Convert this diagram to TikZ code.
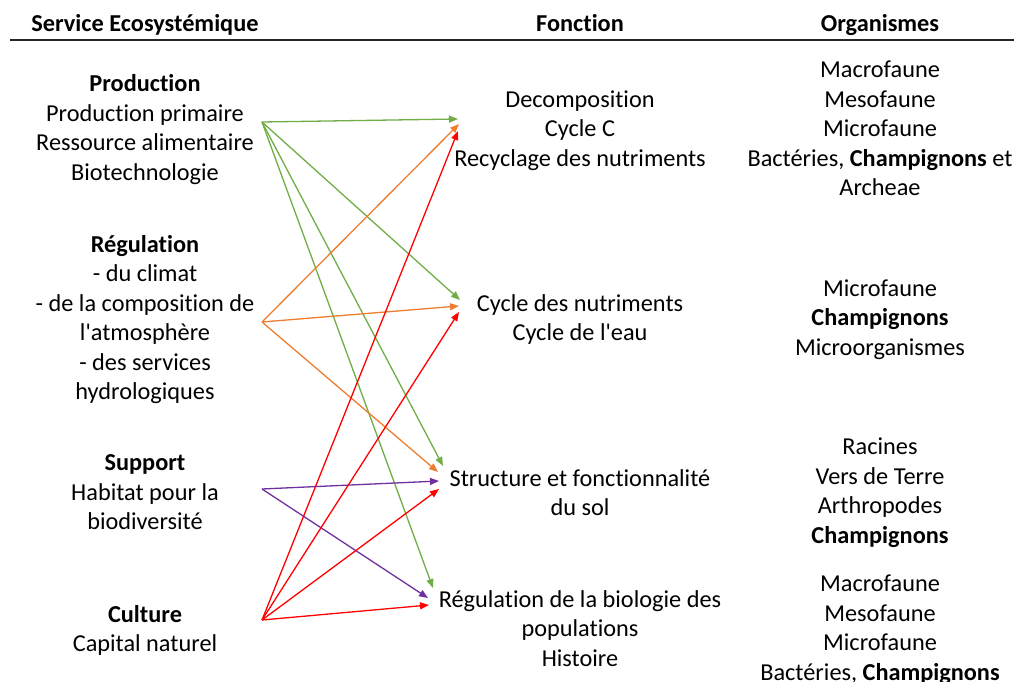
\documentclass[tikz,border=0pt]{standalone}
\usepackage{fontspec}
\setmainfont{Carlito}[Ligatures={TeXOff,CommonOff}]
\usetikzlibrary{arrows.meta}

\definecolor{vert}{RGB}{112,173,71}
\definecolor{orange}{RGB}{237,125,49}
\definecolor{violet}{RGB}{112,48,160}
\definecolor{rouge}{RGB}{255,0,0}

\tikzset{
  txt/.style={align=center, inner sep=0pt, font=\fontsize{24.3}{29.5}\selectfont},
  hdr/.style={txt, anchor=base, font=\fontsize{24.3}{29.5}\selectfont\bfseries},
  lien/.style={-{Triangle[length=9pt,width=7pt]}, line width=1.3pt},
}

\begin{document}
\begin{tikzpicture}[x=1pt,y=1pt]
  \useasboundingbox (0,0) rectangle (1014,-682);

  % En-tetes
  \node[hdr] (svc) at (145,-32) {Service Ecosystémique};
  \node[hdr] (fct) at (580,-32) {Fonction};
  \node[hdr] (org) at (880,-32) {Organismes};
  \draw[line width=1.6pt, black!85] (10,-40) -- (1014,-40);

  % Services
  \node[txt] (prod) at (145,-129.5) {\textbf{Production}\\Production primaire\\Ressource alimentaire\\Biotechnologie};
  \node[txt] (regl) at (145,-319.5) {\textbf{Régulation}\\- du climat\\- de la composition de\\l'atmosphère\\- des services\\hydrologiques};
  \node[txt] (supp) at (145,-492.5) {\textbf{Support}\\Habitat pour la\\biodiversité};
  \node[txt] (cult) at (145,-630.5) {\textbf{Culture}\\Capital naturel};

  % Fonctions
  \node[txt] (dec)  at (580,-130.5) {Decomposition\\Cycle C\\Recyclage des nutriments};
  \node[txt] (cyc)  at (580,-319.5) {Cycle des nutriments\\Cycle de l'eau};
  \node[txt] (str)  at (580,-492.5) {Structure et fonctionnalité\\du sol};
  \node[txt] (rbio) at (580,-628.5) {Régulation de la biologie des\\populations\\Histoire};

  % Organismes
  \node[txt] (org1) at (880,-128.5) {Macrofaune\\Mesofaune\\Microfaune\\Bactéries, \textbf{Champignons} et\\Archeae};
  \node[txt] (org2) at (880,-319.5) {Microfaune\\\textbf{Champignons}\\Microorganismes};
  \node[txt] (org3) at (880,-492.5) {Racines\\Vers de Terre\\Arthropodes\\\textbf{Champignons}};
  \node[txt] (org4) at (880,-629.5) {Macrofaune\\Mesofaune\\Microfaune\\Bactéries, \textbf{Champignons}};

  % Points de depart
  \coordinate (prodout) at (262,-122);
  \coordinate (reglout) at (262,-322);
  \coordinate (suppout) at (262,-489);
  \coordinate (cultout) at (262,-620);

  % Points d'arrivee
  \coordinate (decV) at (458,-119);
  \coordinate (decO) at (459,-124);
  \coordinate (decR) at (458,-131);
  \coordinate (cycV) at (460,-300);
  \coordinate (cycO) at (459,-306);
  \coordinate (cycR) at (459,-312);
  \coordinate (strV) at (443,-466);
  \coordinate (strO) at (438,-472);
  \coordinate (strP) at (439,-481);
  \coordinate (strR) at (439,-489);
  \coordinate (rbioV) at (433,-588);
  \coordinate (rbioP) at (428,-598);
  \coordinate (rbioR) at (429,-605);

  % Production
  \foreach \t in {decV,cycV,strV,rbioV}
    \draw[lien, vert] (prodout) -- (\t);
  % Regulation
  \foreach \t in {decO,cycO,strO}
    \draw[lien, orange] (reglout) -- (\t);
  % Support
  \foreach \t in {strP,rbioP}
    \draw[lien, violet] (suppout) -- (\t);
  % Culture
  \foreach \t in {decR,cycR,strR,rbioR}
    \draw[lien, rouge] (cultout) -- (\t);

\end{tikzpicture}
\end{document}
